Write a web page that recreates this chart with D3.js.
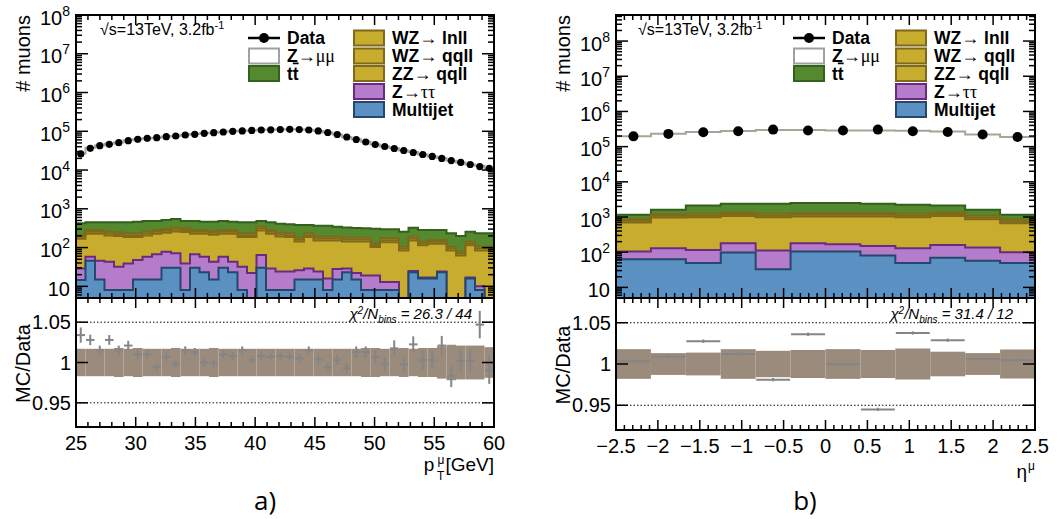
<!DOCTYPE html>
<html><head><meta charset="utf-8">
<script src="https://cdn.jsdelivr.net/npm/d3@7"></script>
<style>
body{margin:0;background:#fff}
svg{display:block}
text{font-family:"Liberation Sans",Arial,Helvetica,sans-serif;fill:#000}
</style>
</head><body>
<svg id="c" width="1057" height="519"></svg>
<script>
// ---------------- DATA ----------------
// Panel a) : muon pT, 44 bins between 25 and 60 GeV
const ptRange = [25, 60];
const ptData = [26000,36400,42500,46100,50700,57100,62100,65900,68300,72400,75500,80100,83600,88700,91900,95800,99800,102000,105000,108000,109000,111000,112500,111000,108000,102000,93000,82600,71200,61300,52900,45600,40500,36000,31900,28400,25200,22400,19900,17600,15700,13900,12300,11100];
const ptMultijet = [14.5,46,15,8,8,8,15,15,15,30,30,8,30,23,15,30,23,8,2,30,8,8,8,15,15,15,8,15,23,15,8,8,8,8,1,23,16,16,23,1,1,16,8,1];
const ptZtautau = [14.5,12,31,35,24,31,33,43,52,48,41,31,37,35,28,28,20,24,20,34,21,16,16,11,14,9,8,13,6,7,11,11,5,5,1,2,1,1,1,1,1,1,2,1];
const ptZZqqll = [140,169,181,163,166,147,138,148,160,163,190,212,160,169,171,169,184,154,164,213,198,168,162,118,157,129,137,125,115,122,125,85,125,125,82,128,97,108,102,82,60,97,74,82];
const ptWZqqll = [21,28,28,26,25,23,23,26,28,30,33,31,28,28,27,28,28,23,23,35,28,24,23,18,23,19,19,19,18,18,18,13,17,17,10,19,14,16,16,10,8,14,10,10];
const ptWZlnll = [21,29,29,25,24,24,24,25,29,30,32,32,29,29,26,29,29,24,24,34,29,24,24,18,24,19,19,19,18,18,18,12,18,18,11,19,14,16,15,11,8,14,11,11];
const ptTtbar = [212,164,164,191,201,215,233,228,201,213,220,171,201,182,199,201,182,215,215,139,164,170,167,202,149,176,176,155,150,140,134,176,122,122,152,135,142,127,127,128,121,115,128,128];
const ptRatio = [1.034,1.028,1.015,1.028,1.015,1.021,1.010,1.010,0.994,1.007,0.9975,1.015,1.013,1.000,0.999,1.010,1.008,1.015,1.003,1.008,1.007,1.008,1.007,1.005,1.015,1.004,0.994,1.003,0.9925,1.013,1.013,1.007,0.9975,1.0175,0.9975,1.0225,1.003,1.003,1.021,0.983,1.002,1.002,1.047,0.990];
const ptRatioErr = [0.0095,0.0065,0.006,0.006,0.006,0.006,0.005,0.005,0.005,0.005,0.005,0.005,0.005,0.005,0.005,0.005,0.005,0.005,0.005,0.005,0.005,0.005,0.005,0.005,0.005,0.005,0.006,0.006,0.006,0.007,0.007,0.008,0.008,0.010,0.010,0.010,0.0125,0.011,0.012,0.0135,0.013,0.014,0.017,0.0165];
const ptBand = [0.017,0.017,0.017,0.017,0.018,0.017,0.018,0.017,0.017,0.017,0.018,0.017,0.017,0.017,0.018,0.017,0.017,0.017,0.017,0.017,0.017,0.017,0.017,0.017,0.017,0.017,0.017,0.017,0.017,0.017,0.018,0.018,0.017,0.017,0.018,0.017,0.018,0.018,0.020,0.022,0.021,0.021,0.021,0.019];
const ptTicks = [25,30,35,40,45,50,55,60];
const ptTickLabels = ["25","30","35","40","45","50","55","60"];

// Panel b) : muon eta, 12 bins between -2.5 and 2.5
const etaRange = [-2.5, 2.5];
const etaData = [196000,230000,255000,273000,305000,286000,286000,305000,273000,260000,220000,187000];
const etaMultijet = [63,63,49,98,33,104,104,80,49,70,57,49];
const etaZtautau = [41,67,67,82,78,76,65,71,81,91,79,51];
const etaZZqqll = [591,836,870,897,875,850,861,879,856,916,730,566];
const etaWZqqll = [87,121,123,135,123,129,129,129,123,135,108,83];
const etaWZlnll = [87,120,124,134,124,129,129,129,124,134,108,83];
const etaTtbar = [287,396,900,1031,1144,1195,1195,1089,995,787,521,324];
const etaRatio = [1.0033,1.0091,1.0277,1.012,0.981,1.036,0.9996,0.945,1.0376,1.0289,1.0062,1.0045];
const etaRatioErr = [0.002,0.002,0.002,0.002,0.002,0.002,0.002,0.002,0.002,0.002,0.002,0.002];
const etaBand = [0.018,0.0132,0.0138,0.018,0.016,0.017,0.018,0.017,0.0188,0.0149,0.0132,0.0176];
const etaTicks = [-2.5,-2,-1.5,-1,-0.5,0,0.5,1,1.5,2,2.5];
const etaTickLabels = ["\u22122.5","\u22122","\u22121.5","\u22121","\u22120.5","0","0.5","1","1.5","2","2.5"];

const ratioTicks = [0.95, 1, 1.05];
const ratioTickLabels = ["0.95","1","1.05"];
const legendCol1 = ["Data","Z\u2192\u03bc\u03bc","tt"];
const legendCol2 = ["WZ\u2192 lnll","WZ\u2192 qqll","ZZ\u2192 qqll","Z\u2192\u03c4\u03c4","Multijet"];

// ---------------- STYLE ----------------
const keys = ["multijet","ztt","zz","wzqq","wzln","tt","zmumu"];
const fillC = {multijet:"#5a91c2", ztt:"#b47ccb", zz:"#c8ac2e", wzqq:"#c8ac2e", wzln:"#c8ac2e", tt:"#55892f", zmumu:"#ffffff"};
const strokeC = {multijet:"#24476c", ztt:"#6a2a82", zz:"#7e6a1a", wzqq:"#7e6a1a", wzln:"#7e6a1a", tt:"#33601c", zmumu:"#aaa397"};

const svg = d3.select("#c");
svg.append("rect").attr("width",1057).attr("height",519).attr("fill","#fff");

function drawPanel(P, idx) {
  const g = svg.append("g");
  const nb = P.data.length;
  const x = d3.scaleLinear().domain(P.xDomain).range([P.x0, P.x1]);
  const edges = d3.range(nb + 1).map(i => P.xDomain[0] + i * (P.xDomain[1] - P.xDomain[0]) / nb);
  const centers = d3.range(nb).map(i => (edges[i] + edges[i+1]) / 2);
  const y = d3.scaleLog().domain([P.yMin, P.yMax]).range([P.yMid, P.yTop]).clamp(true);
  const yr = d3.scaleLinear().domain([0.92, 1.08]).range([P.yBot, P.yMid]);

  const rows = d3.range(nb).map(i => {
    const r = {multijet:P.mj[i], ztt:P.ztt[i], zz:P.zz[i], wzqq:P.wzqq[i], wzln:P.wzln[i], tt:P.tt[i]};
    const bkg = r.multijet + r.ztt + r.zz + r.wzqq + r.wzln + r.tt;
    r.zmumu = P.data[i] * P.ratio[i] - bkg;
    return r;
  });
  const series = d3.stack().keys(keys)(rows);

  const cid = "clip" + idx;
  svg.append("clipPath").attr("id", cid).append("rect")
    .attr("x", P.x0).attr("y", P.yTop).attr("width", P.x1 - P.x0).attr("height", P.yMid - P.yTop);
  const layer = g.append("g").attr("clip-path", `url(#${cid})`);

  const area = d3.area().x(d => x(d[0])).y0(P.yMid).y1(d => y(d[1]));
  const line = d3.line().x(d => x(d[0])).y(d => y(d[1]));
  for (let k = series.length - 1; k >= 0; k--) {
    const s = series[k];
    const key = s.key;
    const pts = [];
    s.forEach((d, i) => { pts.push([edges[i], d[1]]); pts.push([edges[i+1], d[1]]); });
    layer.append("path").attr("d", area(pts)).attr("fill", fillC[key]);
    const outline = [[edges[0], P.yMin * 0.5]].concat(pts, [[edges[nb], P.yMin * 0.5]]);
    layer.append("path").attr("d", line(outline)).attr("fill", "none")
      .attr("stroke", strokeC[key]).attr("stroke-width", 2);
  }
  // data points
  layer.selectAll("circle.d").data(P.data).join("circle")
    .attr("cx", (d, i) => x(centers[i])).attr("cy", d => y(d)).attr("r", P.dotR).attr("fill", "#000");

  // ratio panel: band
  g.selectAll("rect.band").data(P.band).join("rect")
    .attr("x", (d, i) => x(edges[i])).attr("width", (d, i) => x(edges[i+1]) - x(edges[i]))
    .attr("y", d => yr(1 + d)).attr("height", d => yr(1 - d) - yr(1 + d))
    .attr("fill", "#9a8b7d");
  // dotted lines
  [1.05, 0.95].forEach(v => {
    g.append("line").attr("x1", P.x0).attr("x2", P.x1).attr("y1", yr(v)).attr("y2", yr(v))
      .attr("stroke", "#000").attr("stroke-width", 1).attr("stroke-dasharray", "1.5,2");
  });
  // ratio points
  P.ratio.forEach((r, i) => {
    g.append("line").attr("x1", x(edges[i]) + 0.5).attr("x2", x(edges[i+1]) - 0.5)
      .attr("y1", yr(r)).attr("y2", yr(r)).attr("stroke", "#858585").attr("stroke-width", 2);
    g.append("line").attr("x1", x(centers[i])).attr("x2", x(centers[i]))
      .attr("y1", yr(r - P.rErr[i])).attr("y2", yr(r + P.rErr[i])).attr("stroke", "#858585").attr("stroke-width", 2);
  });

  // frames
  [[P.yTop, P.yMid], [P.yMid, P.yBot]].forEach(([a, b]) => {
    g.append("rect").attr("x", P.x0).attr("y", a).attr("width", P.x1 - P.x0).attr("height", b - a)
      .attr("fill", "none").attr("stroke", "#000").attr("stroke-width", 2);
  });

  // ticks
  const tk = g.append("g").attr("stroke", "#000").attr("stroke-width", 1.5);
  for (let e = 0; e <= 9; e++) for (let m = 1; m <= 9; m++) {
    const v = m * Math.pow(10, e);
    if (v < P.yMin || v > P.yMax) continue;
    const L = m === 1 ? 12 : 6, yy = y(v);
    tk.append("line").attr("x1", P.x0).attr("x2", P.x0 + L).attr("y1", yy).attr("y2", yy);
    tk.append("line").attr("x1", P.x1).attr("x2", P.x1 - L).attr("y1", yy).attr("y2", yy);
  }
  ratioTicks.forEach(v => {
    tk.append("line").attr("x1", P.x0).attr("x2", P.x0 + 12).attr("y1", yr(v)).attr("y2", yr(v));
    tk.append("line").attr("x1", P.x1).attr("x2", P.x1 - 12).attr("y1", yr(v)).attr("y2", yr(v));
  });
  const minor = d3.range(P.xDomain[0], P.xDomain[1] + 1e-9, P.minorStep);
  minor.forEach(v => {
    const isMajor = P.xTicks.some(t => Math.abs(t - v) < 1e-6);
    const L = isMajor ? 10 : 5, xx = x(v);
    [[P.yTop, 1], [P.yMid, -1], [P.yMid, 1], [P.yBot, -1]].forEach(([yy, dir]) => {
      tk.append("line").attr("x1", xx).attr("x2", xx).attr("y1", yy).attr("y2", yy + dir * L);
    });
  });

  // y tick labels (main)
  for (let e = 1; e <= 9; e++) {
    const v = Math.pow(10, e);
    if (v < P.yMin || v > P.yMax) continue;
    const t = g.append("text").attr("text-anchor", "end").attr("x", P.x0 - 6).attr("y", y(v) + 9.5)
      .style("font-size", "20px");
    if (e === 1) { t.text("10"); }
    else {
      t.append("tspan").text("10");
      t.append("tspan").attr("dy", -9).style("font-size", "14px").text(String(e));
    }
  }
  ratioTicks.forEach((v, i) => {
    g.append("text").attr("text-anchor", "end").attr("x", P.x0 - 5).attr("y", yr(v) + 7)
      .style("font-size", "20px").text(ratioTickLabels[i]);
  });
  P.xTicks.forEach((v, i) => {
    g.append("text").attr("text-anchor", "middle").attr("x", x(v)).attr("y", P.yBot + 23)
      .style("font-size", "20px").text(P.xTickLabels[i]);
  });
  g.append("text").attr("transform", `translate(${P.x0 - 46},${P.yTop}) rotate(-90)`)
    .attr("text-anchor", "end").style("font-size", "20px").text("# muons");
  g.append("text").attr("transform", `translate(${P.x0 - 46},${(P.yMid + P.yBot) / 2 + 1}) rotate(-90)`)
    .attr("text-anchor", "middle").style("font-size", "20px").text("MC/Data");
  P.xTitle(g, P);

  // chi2
  const c2 = g.append("text").attr("text-anchor", "end").attr("x", P.x1 - 22).attr("y", P.yMid + 21)
    .style("font-size", "15px").style("font-style", "italic");
  c2.append("tspan").text("\u03c7");
  c2.append("tspan").attr("dy", -5).style("font-size", "10px").text("2");
  c2.append("tspan").attr("dy", 5).text("/N");
  c2.append("tspan").attr("dy", 4).style("font-size", "10px").text("bins");
  c2.append("tspan").attr("dy", -4).text(" = " + P.chi2);

  // energy label
  const en = g.append("text").attr("x", P.enX).attr("y", 35).style("font-size", "16px");
  en.append("tspan").text("\u221as=13TeV, 3.2fb");
  en.append("tspan").attr("dy", -6).style("font-size", "11px").text("-1");

  // legend
  const rowsY = [38, 56, 73.5, 91.5, 109.5];
  const bw = 32, bh = 15;
  g.append("line").attr("x1", P.leg1).attr("x2", P.leg1 + bw).attr("y1", rowsY[0]).attr("y2", rowsY[0])
    .attr("stroke", "#000").attr("stroke-width", 2.5);
  g.append("circle").attr("cx", P.leg1 + bw / 2).attr("cy", rowsY[0]).attr("r", 5).attr("fill", "#000");
  const boxes1 = [null, "zmumu", "tt"];
  boxes1.forEach((k, i) => {
    if (!k) return;
    g.append("rect").attr("x", P.leg1 + 1).attr("y", rowsY[i] - bh / 2).attr("width", bw - 2).attr("height", bh)
      .attr("fill", fillC[k]).attr("stroke", k === "zmumu" ? "#a0a0a0" : strokeC[k]).attr("stroke-width", 2);
  });
  const lt = (xx, yy) => g.append("text").attr("x", xx).attr("y", yy + 6).style("font-size", "17.5px").style("font-weight", "bold");
  lt(P.leg1 + bw + 7, rowsY[0]).text(legendCol1[0]);
  { const t = lt(P.leg1 + bw + 7, rowsY[1]);
    t.append("tspan").text("Z");
    t.append("tspan").style("font-family", "'Liberation Serif',serif").style("font-weight", "normal").style("font-size", "18px").text(legendCol1[1].slice(1)); }
  { const t = lt(P.leg1 + bw + 7, rowsY[2]);
    t.append("tspan").text("t");
    t.append("tspan").style("text-decoration", "overline").text("t"); }
  const boxes2 = ["wzln", "wzqq", "zz", "ztt", "multijet"];
  boxes2.forEach((k, i) => {
    g.append("rect").attr("x", P.leg2 + 1).attr("y", rowsY[i] - bh / 2).attr("width", bw - 2).attr("height", bh)
      .attr("fill", fillC[k]).attr("stroke", strokeC[k]).attr("stroke-width", 2);
    const lab = legendCol2[i];
    const t = lt(P.leg2 + bw + 7, rowsY[i]);
    const ai = lab.indexOf("\u2192");
    if (ai < 0) { t.text(lab); return; }
    t.append("tspan").text(lab.slice(0, ai));
    t.append("tspan").style("font-family", "'Liberation Serif',serif").style("font-weight", "normal").style("font-size", "18px").text("\u2192");
    const rest = lab.slice(ai + 1);
    if (/[\u03c4\u03bc]/.test(rest)) t.append("tspan").style("font-family", "'Liberation Serif',serif").style("font-weight", "normal").style("font-size", "18px").text(rest);
    else t.append("tspan").text(rest);
  });

  // caption
  g.append("text").attr("x", P.capX).attr("y", 510).attr("text-anchor", "middle")
    .style("font-family", "'Open Sans',sans-serif").style("font-size", "26px").text(P.caption);
}

drawPanel({
  x0: 76, x1: 494, yTop: 15, yMid: 298, yBot: 427,
  xDomain: ptRange, yMin: 5, yMax: 1e8, dotR: 3.6,
  data: ptData, mj: ptMultijet, ztt: ptZtautau, zz: ptZZqqll, wzqq: ptWZqqll, wzln: ptWZlnll, tt: ptTtbar,
  ratio: ptRatio, rErr: ptRatioErr, band: ptBand,
  xTicks: ptTicks, xTickLabels: ptTickLabels, minorStep: 1,
  chi2: "26.3 / 44", enX: 100, leg1: 248, leg2: 353, capX: 265, caption: "a)",
  xTitle: (g, P) => {
    const t1 = g.append("text").attr("text-anchor", "end").attr("x", P.x1).attr("y", 471).style("font-size", "19px").text("[GeV]");
    const w = t1.node().getComputedTextLength();
    g.append("text").attr("text-anchor", "end").attr("x", P.x1 - w - 1).attr("y", 464).style("font-size", "12px").text("\u03bc");
    g.append("text").attr("text-anchor", "end").attr("x", P.x1 - w - 1).attr("y", 480).style("font-size", "12px").text("T");
    g.append("text").attr("text-anchor", "end").attr("x", P.x1 - w - 11).attr("y", 471).style("font-size", "19px").text("p");
  }
}, 0);

drawPanel({
  x0: 616, x1: 1035, yTop: 15, yMid: 298, yBot: 430,
  xDomain: etaRange, yMin: 5, yMax: 5.5e8, dotR: 5,
  data: etaData, mj: etaMultijet, ztt: etaZtautau, zz: etaZZqqll, wzqq: etaWZqqll, wzln: etaWZlnll, tt: etaTtbar,
  ratio: etaRatio, rErr: etaRatioErr, band: etaBand,
  xTicks: etaTicks, xTickLabels: etaTickLabels, minorStep: 0.1,
  chi2: "31.4 / 12", enX: 638, leg1: 793, leg2: 895, capX: 805, caption: "b)",
  xTitle: (g, P) => {
    g.append("text").attr("text-anchor", "end").attr("x", P.x1).attr("y", 470).style("font-size", "12px").text("\u03bc");
    g.append("text").attr("text-anchor", "end").attr("x", P.x1 - 8).attr("y", 478).style("font-size", "19px").text("\u03b7");
  }
}, 1);
</script>
</body></html>
